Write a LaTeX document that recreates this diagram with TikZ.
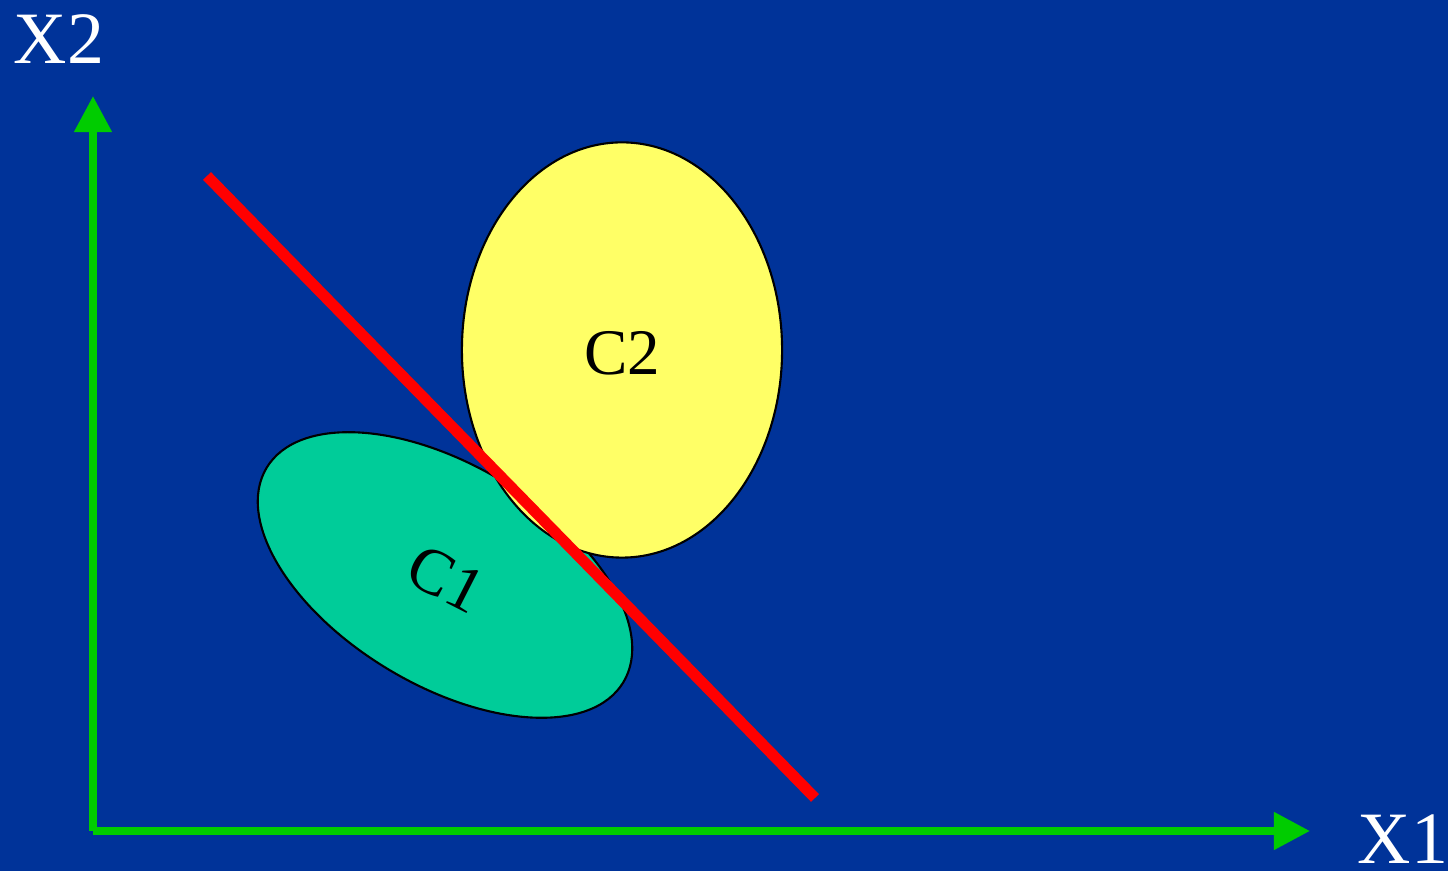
\documentclass[tikz,border=0pt]{standalone}
\usepackage{fontspec}
\setmainfont{Liberation Serif}
\usetikzlibrary{shapes.geometric, arrows.meta}
\definecolor{slideblue}{RGB}{0,51,153}
\definecolor{axisgreen}{RGB}{0,204,0}
\definecolor{classone}{RGB}{0,204,153}
\definecolor{classtwo}{RGB}{255,255,102}

\begin{document}
\begin{tikzpicture}[x=0.01cm, y=-0.01cm,
        axis/.style={draw=axisgreen, line width=0.075cm, -{Triangle[length=0.36cm, width=0.36cm]}},
        class/.style={ellipse, draw=black, line width=0.6pt, inner sep=0pt},
        lbl/.style={font=\fontsize{21}{24}\selectfont, inner sep=0pt},
        clbl/.style={font=\fontsize{18.5}{22}\selectfont, inner sep=0pt}]
        \fill[slideblue] (0,0) rectangle (1448,871);
        \useasboundingbox (0,0) rectangle (1448,871);

        \coordinate (o) at (93,831);
        \coordinate (x1end) at (1310,831);
        \coordinate (x2end) at (93,96);
        \draw[axis] (o) -- (x1end);
        \draw[axis] (o) -- (x2end);
        \node[lbl, text=white] (x1) at (1403,839) {X1};
        \node[lbl, text=white] (x2) at (59,39) {X2};

        \node[class, fill=classone, minimum width=4.16cm, minimum height=2.2cm, rotate=-31] (c1) at (445,575) {};
        \node[class, fill=classtwo, minimum width=3.2cm, minimum height=4.15cm] (c2) at (622,350) {};

        \coordinate (sepa) at (207,176);
        \coordinate (sepb) at (815,798);
        \draw[red, line width=0.11cm] (sepa) -- (sepb);

        \node[clbl, rotate=-27] (c1text) at (446,579) {C1};
        \node[clbl] (c2text) at (622,353) {C2};
\end{tikzpicture}
\end{document}
